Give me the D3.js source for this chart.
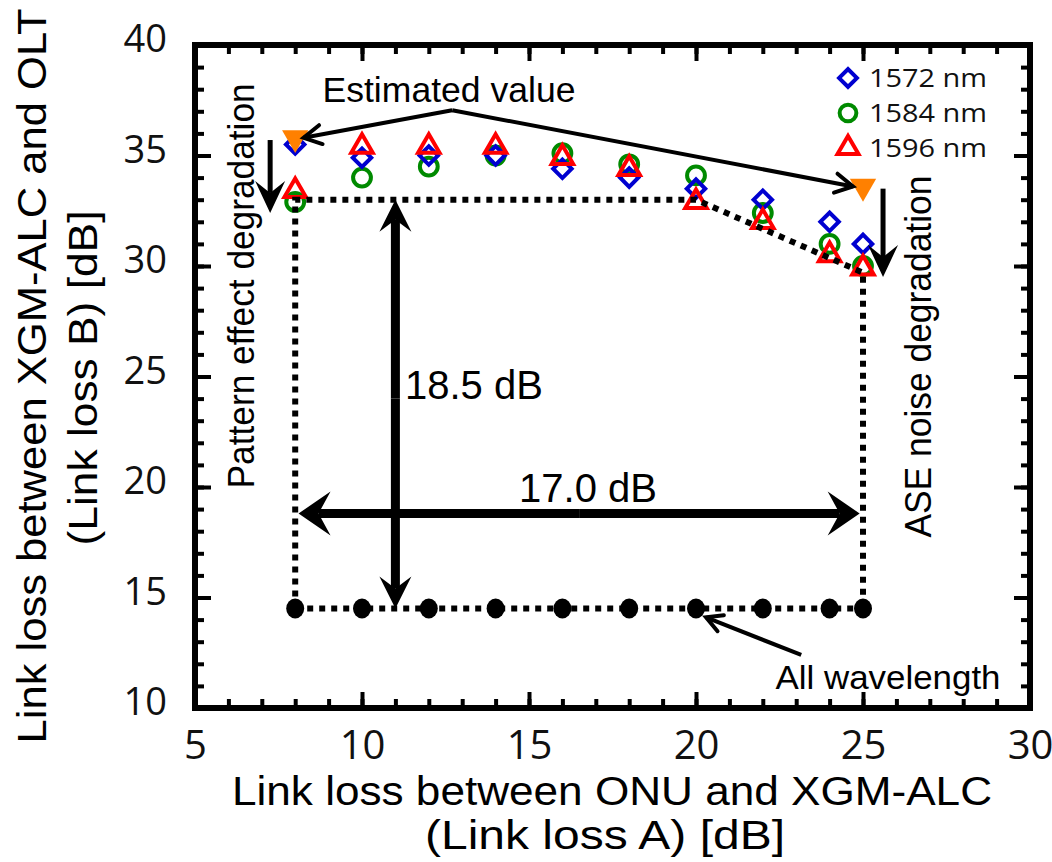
<!DOCTYPE html>
<html>
<head>
<meta charset="utf-8">
<script src="https://cdn.jsdelivr.net/npm/d3@7"></script>
<style>
  body { margin: 0; background: #fff; }
</style>
</head>
<body>
<script>
// link loss A values where measurements were taken
const linkLossA = [8, 10, 12, 14, 16, 18, 20, 22, 24, 25];
// link loss B per wavelength
const nm1572 = [35.5, 34.9, 35.0, 35.0, 34.4, 34.0, 33.5, 33.0, 32.0, 31.0];
const nm1584 = [32.9, 34.0, 34.5, 35.0, 35.1, 34.6, 34.1, 32.4, 31.0, 30.0];
const nm1596 = [33.4, 35.4, 35.4, 35.4, 34.9, 34.4, 32.9, 32.0, 30.5, 29.9];
const allWavelength = [14.5, 14.5, 14.5, 14.5, 14.5, 14.5, 14.5, 14.5, 14.5, 14.5];
// estimated values (orange)
const estimatedX = [8, 25];
const estimatedY = [35.8, 33.6];
// dotted boundary of the operating region
const boundaryX = [8, 8, 20, 25, 25];
const boundaryY = [14.5, 33, 33, 29.7, 14.5];
const xTicks = [5, 10, 15, 20, 25, 30];
const yTicks = [10, 15, 20, 25, 30, 35, 40];
const legendLabels = ['1572 nm', '1584 nm', '1596 nm'];

const width = 1052, height = 862;
const svg = d3.select('body').append('svg')
  .attr('width', width)
  .attr('height', height);

const x = d3.scaleLinear().domain([5, 30]).range([195, 1030]);
const y = d3.scaleLinear().domain([10, 40]).range([708, 45]);

const tickFont = '"Open Sans", sans-serif';
const arial = '"Liberation Sans", Arial, sans-serif';
const narrow = '"Liberation Sans Narrow", "Liberation Sans", sans-serif';

// ---- ticks (inward, all four sides) ----
function ticks(axis, tr, size, values, labels, fs) {
  const g = svg.append('g')
    .attr('transform', tr)
    .call(axis.tickValues(values).tickSize(-size).tickSizeOuter(0)
      .tickFormat(labels ? d3.format('d') : ''));
  g.select('.domain').remove();
  g.selectAll('line').attr('stroke', '#000').attr('stroke-width', 4);
  g.selectAll('text')
    .style('font-family', tickFont)
    .style('font-size', (fs || 38) + 'px')
    .attr('fill', '#111');
  return g;
}
const minorX = d3.range(5, 31), minorY = d3.range(10, 41);
ticks(d3.axisBottom(x), `translate(0,${y(10)})`, 9, minorX, false);
ticks(d3.axisTop(x), `translate(0,${y(40)})`, 9, minorX, false);
ticks(d3.axisLeft(y), `translate(${x(5)},0)`, 9, minorY, false);
ticks(d3.axisRight(y), `translate(${x(30)},0)`, 9, minorY, false);
ticks(d3.axisBottom(x).tickPadding(23), `translate(0,${y(10)})`, 16, xTicks, true, 40);
ticks(d3.axisTop(x), `translate(0,${y(40)})`, 16, xTicks, false);
ticks(d3.axisLeft(y).tickPadding(28), `translate(${x(5)},0)`, 16, yTicks, true, 38)
  .selectAll('text').attr('dy', '0.18em');
ticks(d3.axisRight(y), `translate(${x(30)},0)`, 16, yTicks, false);

// frame
svg.append('rect')
  .attr('x', x(5)).attr('y', y(40))
  .attr('width', x(30) - x(5)).attr('height', y(10) - y(40))
  .attr('fill', 'none').attr('stroke', '#000').attr('stroke-width', 6);

// ---- axis titles ----
svg.append('text')
  .attr('x', 612).attr('y', 805)
  .attr('text-anchor', 'middle')
  .attr('textLength', 760).attr('lengthAdjust', 'spacingAndGlyphs')
  .style('font-family', narrow).style('font-size', '41px')
  .text('Link loss between ONU and XGM-ALC');
svg.append('text')
  .attr('x', 605).attr('y', 849)
  .attr('text-anchor', 'middle')
  .attr('textLength', 360).attr('lengthAdjust', 'spacingAndGlyphs')
  .style('font-family', narrow).style('font-size', '41px')
  .text('(Link loss A) [dB]');
svg.append('text')
  .attr('transform', 'translate(46,376) rotate(-90)')
  .attr('text-anchor', 'middle')
  .attr('textLength', 735).attr('lengthAdjust', 'spacingAndGlyphs')
  .style('font-family', narrow).style('font-size', '41px')
  .text('Link loss between XGM-ALC and OLT');
svg.append('text')
  .attr('transform', 'translate(97,378) rotate(-90)')
  .attr('text-anchor', 'middle')
  .attr('textLength', 335).attr('lengthAdjust', 'spacingAndGlyphs')
  .style('font-family', narrow).style('font-size', '41px')
  .text('(Link loss B) [dB]');

// ---- arrow helpers ----
function barbedArrow(x1, y1, x2, y2, w, len, half, notch) {
  const a = Math.atan2(y2 - y1, x2 - x1);
  const c = Math.cos(a), s = Math.sin(a);
  svg.append('line')
    .attr('x1', x1).attr('y1', y1)
    .attr('x2', x2 - c * notch).attr('y2', y2 - s * notch)
    .attr('stroke', '#000').attr('stroke-width', w);
  const pt = (l, h) => [x2 - c * l - s * h, y2 - s * l + c * h];
  svg.append('path')
    .attr('d', d3.line()([pt(0, 0), pt(len, half), pt(notch, 0), pt(len, -half)]) + 'Z')
    .attr('fill', '#000');
}
function openArrow(pts, w, len, ang) {
  svg.append('path')
    .attr('d', d3.line()(pts))
    .attr('fill', 'none').attr('stroke', '#000').attr('stroke-width', w)
    .attr('stroke-linejoin', 'round');
  const [x1, y1] = pts[pts.length - 2], [x2, y2] = pts[pts.length - 1];
  const a = Math.atan2(y1 - y2, x1 - x2);
  svg.append('path')
    .attr('d', d3.line()([
      [x2 + len * Math.cos(a + ang), y2 + len * Math.sin(a + ang)],
      [x2, y2],
      [x2 + len * Math.cos(a - ang), y2 + len * Math.sin(a - ang)]]))
    .attr('fill', 'none').attr('stroke', '#000').attr('stroke-width', w)
    .attr('stroke-linecap', 'round').attr('stroke-linejoin', 'miter');
}

// ---- measured markers ----
const sym = (type, size) => d3.symbol().type(type).size(size)();
function series(vals, type, size, color, rot) {
  svg.append('g').selectAll('path')
    .data(linkLossA.map((d, i) => [d, vals[i]]))
    .join('path')
    .attr('transform', d => `translate(${x(d[0])},${y(d[1])}) rotate(${rot || 0})`)
    .attr('d', sym(type, size))
    .attr('fill', 'none').attr('stroke', color).attr('stroke-width', 4);
}
series(nm1584, d3.symbolCircle, 250, '#008a00');
series(nm1572, d3.symbolSquare, 170, '#0000d0', 45);
series(nm1596, d3.symbolTriangle, 200, '#ff0000');

// estimated (orange filled down triangles)
svg.append('g').selectAll('path')
  .data(estimatedX.map((d, i) => [d, estimatedY[i]]))
  .join('path')
  .attr('transform', d => `translate(${x(d[0])},${y(d[1])}) rotate(180)`)
  .attr('d', sym(d3.symbolTriangle, 300))
  .attr('fill', '#ff8000');

// dotted boundary + all-wavelength baseline
svg.append('path')
  .attr('d', d3.line().x(d => x(d[0])).y(d => y(d[1]))(boundaryX.map((d, i) => [d, boundaryY[i]])))
  .attr('fill', 'none').attr('stroke', '#000').attr('stroke-width', 6)
  .attr('stroke-dasharray', '6,6');
svg.append('path')
  .attr('d', d3.line().x(d => x(d[0])).y(d => y(d[1]))(linkLossA.map((d, i) => [d, allWavelength[i]])))
  .attr('fill', 'none').attr('stroke', '#000').attr('stroke-width', 6)
  .attr('stroke-dasharray', '6,6');
svg.append('g').selectAll('ellipse')
  .data(linkLossA.map((d, i) => [d, allWavelength[i]]))
  .join('ellipse')
  .attr('cx', d => x(d[0])).attr('cy', d => y(d[1]))
  .attr('rx', 9).attr('ry', 10)
  .attr('fill', '#000');

// ---- annotations ----
// double arrows
barbedArrow(x(11), y(24), x(11), y(33), 9, 32, 16, 20);
barbedArrow(x(11), y(24), x(11), y(14.5), 9, 32, 16, 20);
barbedArrow(x(16.5), y(18.8), x(8.1), y(18.8), 9, 32, 22, 20);
barbedArrow(x(16.5), y(18.8), x(24.9), y(18.8), 9, 32, 22, 20);
svg.append('text').attr('x', 405).attr('y', 399)
  .style('font-family', arial).style('font-size', '40px').text('18.5 dB');
svg.append('text').attr('x', 588).attr('y', 502).attr('text-anchor', 'middle')
  .style('font-family', arial).style('font-size', '40px').text('17.0 dB');

// degradation arrows
barbedArrow(x(7.25), y(35.7), x(7.25), y(32.4), 5, 32, 15, 20);
barbedArrow(x(25.6), y(33.5), x(25.6), y(29.5), 5, 32, 15, 20);
svg.append('text')
  .attr('transform', `translate(254,${y(29.1)}) rotate(-90)`)
  .attr('text-anchor', 'middle')
  .attr('textLength', 405).attr('lengthAdjust', 'spacingAndGlyphs')
  .style('font-family', arial).style('font-size', '36px')
  .text('Pattern effect degradation');
svg.append('text')
  .attr('transform', `translate(931,${y(25.9)}) rotate(-90)`)
  .attr('text-anchor', 'middle')
  .attr('textLength', 362).attr('lengthAdjust', 'spacingAndGlyphs')
  .style('font-family', arial).style('font-size', '36px')
  .text('ASE noise degradation');

// estimated value callout
openArrow([[x(12.7), y(37.05)], [x(8.25), y(35.8)]], 4, 20, 0.5);
openArrow([[x(12.7), y(37.05)], [x(24.7), y(33.6)]], 4, 20, 0.5);
svg.append('text').attr('x', 449).attr('y', 102).attr('text-anchor', 'middle')
  .attr('textLength', 253).attr('lengthAdjust', 'spacingAndGlyphs')
  .style('font-family', arial).style('font-size', '35px').text('Estimated value');

// all wavelength callout
openArrow([[x(23.15), y(12.4)], [x(20.3), y(14.1)]], 4, 18, 0.5);
svg.append('text').attr('x', 888).attr('y', 689).attr('text-anchor', 'middle')
  .attr('textLength', 225).attr('lengthAdjust', 'spacingAndGlyphs')
  .style('font-family', narrow).style('font-size', '33px').text('All wavelength');

// ---- legend ----
const legend = svg.append('g');
const legendSym = [
  { type: d3.symbolSquare, size: 160, color: '#0000d0', rot: 45 },
  { type: d3.symbolCircle, size: 220, color: '#008a00', rot: 0 },
  { type: d3.symbolTriangle, size: 190, color: '#ff0000', rot: 0 }
];
legendLabels.forEach((lab, i) => {
  const ly = 78 + i * 35;
  legend.append('path')
    .attr('transform', `translate(848,${ly}) rotate(${legendSym[i].rot})`)
    .attr('d', sym(legendSym[i].type, legendSym[i].size))
    .attr('fill', 'none').attr('stroke', legendSym[i].color).attr('stroke-width', 4);
  legend.append('text').attr('x', 869).attr('y', ly + 9)
    .attr('textLength', 118).attr('lengthAdjust', 'spacingAndGlyphs')
    .style('font-family', tickFont).style('font-size', '25px').attr('fill', '#111')
    .text(lab);
});
</script>
</body>
</html>
